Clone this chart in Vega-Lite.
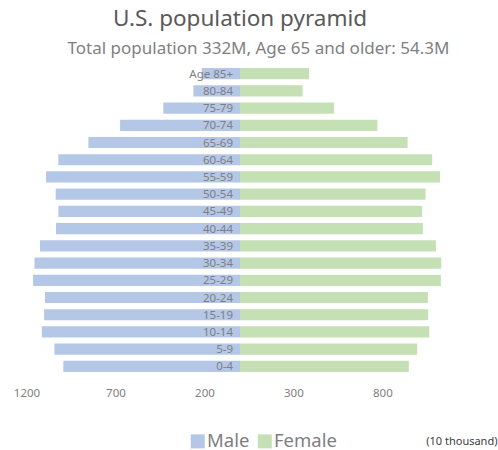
{
  "$schema": "https://vega.github.io/schema/vega-lite/v6.json",
  "autosize": {"type": "none"},
  "width": 427,
  "height": 310,
  "padding": {"left": 26.5, "top": 65, "right": 44.5, "bottom": 75},
  "title": {
    "text": "U.S. population pyramid",
    "anchor": "middle",
    "frame": "group",
    "font": "Noto Sans",
    "fontSize": 22.5,
    "fontWeight": "normal",
    "color": "#595959",
    "baseline": "alphabetic",
    "offset": -9
  },
  "data": {
    "values": [
      {"age": "Age 85+", "sex": "Male", "pop": 215},
      {"age": "80-84", "sex": "Male", "pop": 262},
      {"age": "75-79", "sex": "Male", "pop": 431},
      {"age": "70-74", "sex": "Male", "pop": 674},
      {"age": "65-69", "sex": "Male", "pop": 852},
      {"age": "60-64", "sex": "Male", "pop": 1021},
      {"age": "55-59", "sex": "Male", "pop": 1090},
      {"age": "50-54", "sex": "Male", "pop": 1036},
      {"age": "45-49", "sex": "Male", "pop": 1021},
      {"age": "40-44", "sex": "Male", "pop": 1034},
      {"age": "35-39", "sex": "Male", "pop": 1124},
      {"age": "30-34", "sex": "Male", "pop": 1155},
      {"age": "25-29", "sex": "Male", "pop": 1163},
      {"age": "20-24", "sex": "Male", "pop": 1096},
      {"age": "15-19", "sex": "Male", "pop": 1101},
      {"age": "10-14", "sex": "Male", "pop": 1114},
      {"age": "5-9", "sex": "Male", "pop": 1043},
      {"age": "0-4", "sex": "Male", "pop": 993},
      {"age": "Age 85+", "sex": "Female", "pop": 388},
      {"age": "80-84", "sex": "Female", "pop": 352},
      {"age": "75-79", "sex": "Female", "pop": 528},
      {"age": "70-74", "sex": "Female", "pop": 772},
      {"age": "65-69", "sex": "Female", "pop": 942},
      {"age": "60-64", "sex": "Female", "pop": 1080},
      {"age": "55-59", "sex": "Female", "pop": 1124},
      {"age": "50-54", "sex": "Female", "pop": 1043},
      {"age": "45-49", "sex": "Female", "pop": 1024},
      {"age": "40-44", "sex": "Female", "pop": 1028},
      {"age": "35-39", "sex": "Female", "pop": 1101},
      {"age": "30-34", "sex": "Female", "pop": 1131},
      {"age": "25-29", "sex": "Female", "pop": 1129},
      {"age": "20-24", "sex": "Female", "pop": 1056},
      {"age": "15-19", "sex": "Female", "pop": 1058},
      {"age": "10-14", "sex": "Female", "pop": 1064},
      {"age": "5-9", "sex": "Female", "pop": 996},
      {"age": "0-4", "sex": "Female", "pop": 949}
    ]
  },
  "encoding": {
    "y": {
      "field": "age",
      "type": "nominal",
      "axis": null,
      "scale": {
        "domain": ["Age 85+", "80-84", "75-79", "70-74", "65-69", "60-64", "55-59", "50-54", "45-49", "40-44", "35-39", "30-34", "25-29", "20-24", "15-19", "10-14", "5-9", "0-4"],
        "paddingInner": 0.35,
        "paddingOuter": 0.175
      }
    }
  },
  "layer": [
    {
      "transform": [{"filter": "datum.sex === 'Male'"}],
      "mark": {"type": "bar"},
      "encoding": {
        "x": {
          "field": "pop",
          "type": "quantitative",
          "scale": {"domain": [-1200, 1200], "reverse": true, "nice": false, "zero": false},
          "axis": {
            "orient": "top",
            "labels": false,
            "domain": false,
            "ticks": false,
            "grid": false,
            "title": "Total population 332M, Age 65 and older: 54.3M",
            "titleFont": "Noto Sans",
            "titleFontSize": 17,
            "titleFontWeight": "normal",
            "titleColor": "#7f7f7f",
            "titleAlign": "center",
            "titleAnchor": "middle",
            "titleBaseline": "alphabetic",
            "titleX": 231.5,
            "titleY": -12
          }
        },
        "x2": {"datum": 0},
        "color": {
          "field": "sex",
          "type": "nominal",
          "scale": {"domain": ["Male", "Female"], "range": ["#b4c7e7", "#c5e0b4"]},
          "legend": {
            "orient": "none",
            "legendX": 162,
            "legendY": 367,
            "direction": "horizontal",
            "title": null,
            "padding": 0,
            "symbolType": "square",
            "symbolSize": 196,
            "symbolStrokeWidth": 0,
            "symbolOpacity": 1,
            "labelFont": "Noto Sans",
            "labelFontSize": 18.5,
            "labelColor": "#7f7f7f",
            "labelLimit": 300,
            "labelOffset": 0,
            "columnPadding": 6
          }
        }
      }
    },
    {
      "transform": [{"filter": "datum.sex === 'Female'"}],
      "mark": {"type": "bar"},
      "encoding": {
        "x": {
          "field": "pop",
          "type": "quantitative",
          "scale": {"domain": [-1200, 1200], "nice": false, "zero": false},
          "axis": {
            "values": [-1200, -700, -200, 300, 800],
            "labelExpr": "abs(datum.value)",
            "domain": false,
            "ticks": false,
            "grid": false,
            "labelFlush": false,
            "labelPadding": 12,
            "labelFont": "Noto Sans",
            "labelFontSize": 11.5,
            "labelColor": "#808080",
            "title": "(10 thousand)",
            "titleFont": "Noto Sans",
            "titleFontSize": 11,
            "titleFontWeight": "normal",
            "titleColor": "#404040",
            "titleAlign": "right",
            "titleAnchor": "end",
            "titleBaseline": "alphabetic",
            "titleX": 470.5,
            "titleY": 69
          }
        },
        "x2": {"datum": 0},
        "color": {"field": "sex", "type": "nominal"}
      }
    },
    {
      "transform": [{"filter": "datum.sex === 'Female'"}],
      "mark": {
        "type": "text",
        "align": "right",
        "baseline": "middle",
        "dx": -7,
        "dy": 1,
        "font": "Noto Sans",
        "fontSize": 11.5,
        "color": "#7f7f7f"
      },
      "encoding": {
        "x": {
          "datum": 0,
          "type": "quantitative",
          "axis": null,
          "scale": {"domain": [-1200, 1200], "nice": false, "zero": false}
        },
        "text": {"field": "age", "type": "nominal"}
      }
    }
  ],
  "resolve": {"scale": {"x": "independent"}},
  "config": {
    "font": "Noto Sans",
    "view": {"stroke": null}
  }
}
